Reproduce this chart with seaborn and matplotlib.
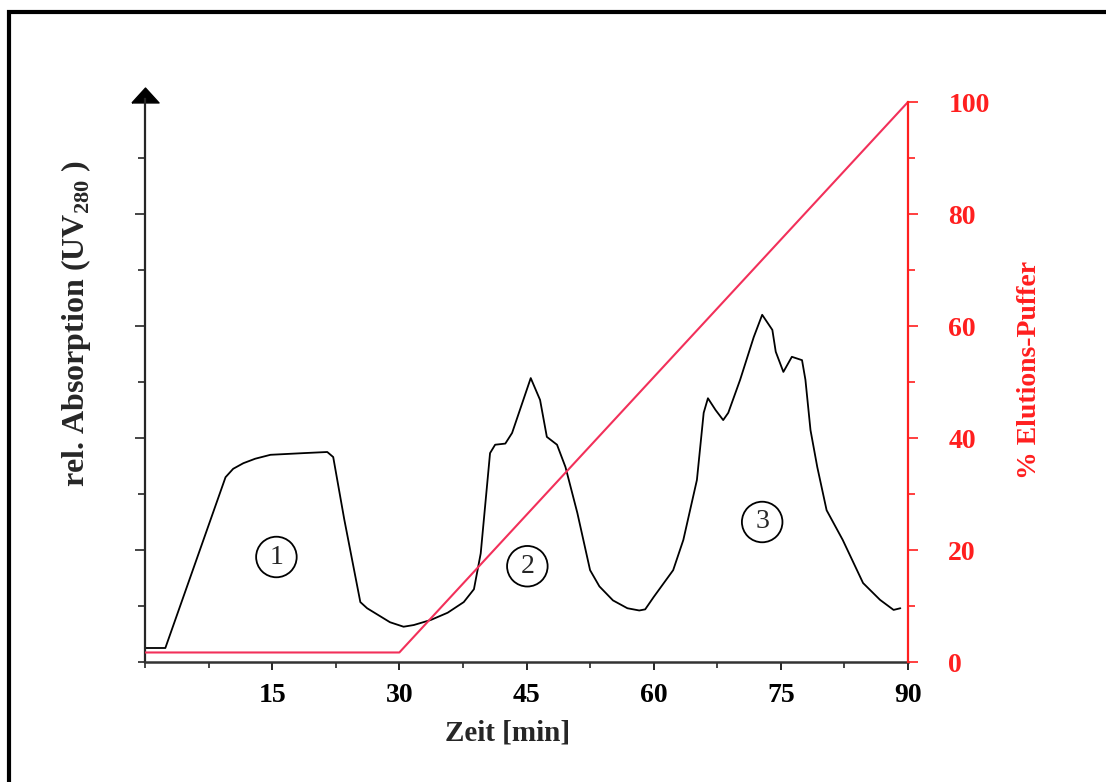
import numpy as np
import pandas as pd
import matplotlib
matplotlib.use('Agg')
import matplotlib.pyplot as plt
import seaborn as sns
from matplotlib.lines import Line2D
from matplotlib.path import Path
from matplotlib.ticker import MultipleLocator

zeit = [0, 2.4, 9.5, 10.4, 11.6, 13.0, 14.8, 18.7, 21.5, 22.2, 23.5, 25.4, 26.2,
        28.9, 30.5, 31.7, 33.7, 35.7, 37.6, 38.8, 39.6, 40.7, 41.3, 42.5, 43.3,
        45.5, 46.6, 47.4, 48.6, 49.6, 51.0, 52.5, 53.6, 55.2, 56.9, 58.3, 59.0,
        60.0, 62.3, 63.5, 65.1, 65.9, 66.4, 67.3, 68.2, 68.8, 70.2, 71.8, 72.8,
        74.0, 74.4, 75.3, 76.3, 77.5, 77.9, 78.5, 79.3, 80.4, 82.3, 84.7, 86.7,
        88.3, 89.1]
absorption = [2.5, 2.5, 33, 34.5, 35.5, 36.3, 37, 37.3, 37.5, 36.6, 25.5, 10.7,
              9.6, 7.1, 6.3, 6.6, 7.5, 8.8, 10.7, 13.0, 19.4, 37.3, 38.8, 39.0,
              40.9, 50.7, 46.8, 40.2, 38.8, 34.8, 26.6, 16.4, 13.5, 11.0, 9.6,
              9.2, 9.4, 11.6, 16.4, 21.8, 32.5, 44.5, 47.1, 45.0, 43.2, 44.5,
              50.4, 58.0, 62.0, 59.3, 55.4, 51.8, 54.5, 53.9, 50.4, 41.4, 34.8,
              27.1, 21.8, 14.1, 11.1, 9.3, 9.6]

# Gradient Elutions-Puffer
gradient_zeit = [0, 30, 90]
gradient_puffer = [1.7, 1.7, 100]

# Fraktionen
fraktion_label = ['1', '2', '3']
fraktion_zeit = [15.5, 45.1, 72.8]
fraktion_wert = [18.75, 17.1, 25.0]

x_ticks = [15, 30, 45, 60, 75, 90]
y_ticks_rechts = [0, 20, 40, 60, 80, 100]

sns.set_style('ticks')
plt.rcParams['font.family'] = ['Liberation Serif', 'DejaVu Serif']
plt.rcParams['font.weight'] = 'bold'
plt.rcParams['mathtext.fontset'] = 'custom'
plt.rcParams['mathtext.rm'] = 'Liberation Serif:bold'
plt.rcParams['mathtext.bf'] = 'Liberation Serif:bold'

ROT = '#ff1f1f'
W, H = 1106, 782
fig = plt.figure(figsize=(W / 100, H / 100), dpi=100)
fig.patch.set_facecolor('white')

x0, x1, y0, y1 = 145, 908, 662, 87
ax = fig.add_axes([x0 / W, 1 - y0 / H, (x1 - x0) / W, (y0 - y1) / H])
ytop = (y0 - y1) / 5.6
ax.set_xlim(0, 90)
ax.set_ylim(0, ytop)

df = pd.DataFrame({'zeit': zeit, 'absorption': absorption})
sns.lineplot(data=df, x='zeit', y='absorption', ax=ax, color='black', lw=1.3,
             sort=False, estimator=None)

ax2 = ax.twinx()
ax2.set_ylim(0, ytop)
dg = pd.DataFrame({'zeit': gradient_zeit, 'puffer': gradient_puffer})
sns.lineplot(data=dg, x='zeit', y='puffer', ax=ax2, color='#f2305a', lw=1.5,
             sort=False, estimator=None)

# Fraktionsnummern im Kreis
for lab, t, v in zip(fraktion_label, fraktion_zeit, fraktion_wert):
    ax.text(t, v, lab, ha='center', va='center', fontsize=20, fontweight='normal',
            bbox=dict(boxstyle='circle,pad=0.28', fc='none', ec='black', lw=1.3))

# Achsen
for s in ['top', 'right']:
    ax.spines[s].set_visible(False)
for s in ['top', 'left', 'bottom']:
    ax2.spines[s].set_visible(False)
ax.spines['left'].set_linewidth(1.6)
ax.spines['left'].set_bounds(0, 100.5)
ax.spines['bottom'].set_linewidth(1.8)
ax.spines['bottom'].set_color('#333333')
ax2.spines['right'].set_color(ROT)
ax2.spines['right'].set_linewidth(1.6)
ax2.spines['right'].set_bounds(0, 100)

# Pfeil an der linken Achse
pfeil = Path([(-1, -0.55), (1, -0.55), (0, 0.55), (-1, -0.55)])
ax.plot([0], [(y0 - 94.5) / 5.6], marker=pfeil, markersize=19.5, color='black',
        clip_on=False)

ax.set_xticks(x_ticks)
ax.set_xticklabels([str(t) for t in x_ticks])
ax.xaxis.set_minor_locator(MultipleLocator(7.5))
ax.tick_params(axis='x', which='major', direction='out', length=6, width=1.2,
               labelsize=20, pad=9, colors='black')
ax.tick_params(axis='x', which='minor', direction='out', length=4, width=1.2)

ax.set_yticks([20, 40, 60, 80])
ax.set_yticklabels([])
ax.yaxis.set_minor_locator(MultipleLocator(10))
ax.tick_params(axis='y', which='major', direction='out', length=7, width=1.2)
ax.tick_params(axis='y', which='minor', direction='out', length=5, width=1.2)

ax2.set_yticks(y_ticks_rechts)
ax2.set_yticklabels([str(t) for t in y_ticks_rechts])
ax2.yaxis.set_minor_locator(MultipleLocator(10))
ax2.tick_params(axis='y', which='major', direction='out', length=7, width=1.2,
                labelsize=20, pad=22, colors=ROT)
ax2.tick_params(axis='y', which='minor', direction='out', length=5, width=1.2,
                colors=ROT)
for lab in ax2.get_yticklabels():
    lab.set_fontweight('bold')

ax.set_xlabel('Zeit [min]', fontsize=21, fontweight='bold', va='center')
ax.xaxis.set_label_coords((508 - x0) / (x1 - x0), -(733 - y0) / (y0 - y1))
ax.set_ylabel(r'rel. Absorption (UV$_{280}$ )', fontsize=23, fontweight='bold',
              va='center')
ax.yaxis.set_label_coords(-(x0 - 76) / (x1 - x0), (y0 - 324) / (y0 - y1))
ax2.set_ylabel('% Elutions-Puffer', fontsize=20, fontweight='bold', color=ROT,
               va='center', rotation=90)
ax2.yaxis.set_label_coords((1030 - x0) / (x1 - x0), (y0 - 370) / (y0 - y1))

# Rahmen oben und links
fig.add_artist(Line2D([1.0, 9 / W, 9 / W], [1 - 12 / H, 1 - 12 / H, 0.0],
                      color='black', lw=3, solid_joinstyle='miter',
                      transform=fig.transFigure))

fig.savefig('out.png', dpi=100)
plt.close(fig)
